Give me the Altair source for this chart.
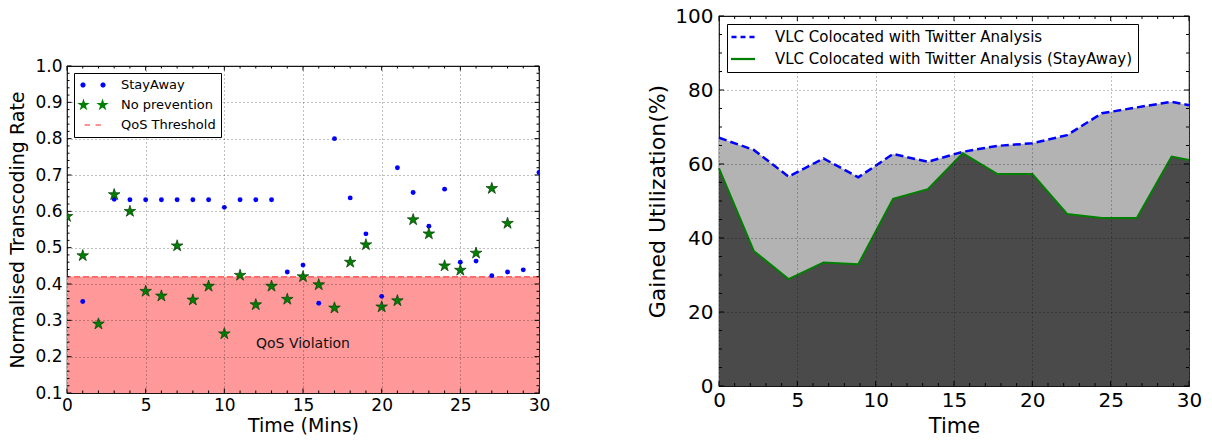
import math
import altair as alt
import pandas as pd

FONT = "DejaVu Sans"

# ---------------- left panel data ----------------
minutes = list(range(31))
stayaway_rate = [0.585, 0.352, None, 0.633, 0.632, 0.632, 0.632, 0.632, 0.632, 0.632,
                 0.611, 0.632, 0.632, 0.632, 0.433, 0.452, 0.347, 0.800, 0.637, 0.538,
                 0.366, 0.720, 0.652, 0.559, 0.661, 0.460, 0.463, 0.423, 0.433, 0.439, 0.707]
no_prevention_rate = [0.586, 0.478, 0.290, 0.646, 0.600, 0.380, 0.367, 0.505, 0.356, 0.394,
                      0.263, 0.424, 0.343, 0.394, 0.358, 0.420, 0.398, 0.334, 0.460, 0.508,
                      0.337, 0.354, 0.577, 0.538, 0.450, 0.438, 0.485, 0.663, 0.567, None, None]
qos_threshold = 0.42
rate_floor = 0.1
violation_text = "QoS Violation"
violation_time = 15
violation_rate = 0.236
left_legend_labels = ["StayAway", "No prevention", "QoS Threshold"]
left_x_ticks = [0, 5, 10, 15, 20, 25, 30]
left_y_ticks = [0.1, 0.2, 0.3, 0.4, 0.5, 0.6, 0.7, 0.8, 0.9, 1.0]
left_x_minor = [i for i in range(31) if i % 5]
left_y_minor = [round(0.1 + 0.02 * i, 2) for i in range(46) if i % 5]

# ---------------- right panel data ----------------
util_time = [0, 2.22, 4.44, 6.67, 8.89, 11.11, 13.33, 15.56, 17.78, 20.0, 22.22, 24.44, 26.67, 28.89, 30.0]
util_colocated = [67.1, 63.8, 56.6, 61.5, 56.4, 62.7, 60.6, 63.3, 64.9, 65.6, 67.8, 73.7, 75.3, 76.8, 75.9]
util_stayaway = [58.8, 36.5, 28.9, 33.4, 32.9, 50.6, 53.2, 62.9, 57.3, 57.3, 46.5, 45.4, 45.4, 62.0, 61.1]
right_legend_labels = ["VLC Colocated with Twitter Analysis",
                       "VLC Colocated with Twitter Analysis (StayAway)"]
right_x_ticks = [0, 5, 10, 15, 20, 25, 30]
right_y_ticks = [0, 20, 40, 60, 80, 100]
right_x_minor = [i for i in range(31) if i % 5]
right_y_minor = [v for v in range(0, 101, 5) if v % 20]

# ---------------- sizes / styles ----------------
LW, LH = 472, 327
RW, RH = 470, 370


def fmt(v):
    s = f"{v:.3f}".rstrip("0").rstrip(".")
    return "0" if s in ("", "-0", "-") else s


def poly_path(pts):
    return "M" + "L".join(f"{fmt(x)},{fmt(y)}" for x, y in pts) + "Z"


def star_path(cx, r_out, r_in):
    pts = []
    for i in range(10):
        ang = -math.pi / 2 + i * math.pi / 5
        r = r_out if i % 2 == 0 else r_in
        pts.append((cx + r * math.cos(ang), r * math.sin(ang)))
    return poly_path(pts)


def dot_path(cx, r, n=16):
    return poly_path([(cx + r * math.cos(2 * math.pi * i / n), r * math.sin(2 * math.pi * i / n))
                      for i in range(n)])


def rect_path(x0, x1, h):
    return poly_path([(x0, -h), (x1, -h), (x1, h), (x0, h)])


STAR = star_path(0, 1, 0.38)


def tick_layers(xs, ys, x_major, x_minor, y_major, y_minor, W, H, major_len, minor_len):
    layers = []
    for vals, L in ((x_major, major_len), (x_minor, minor_len)):
        base = alt.Chart(pd.DataFrame({"tv": vals})).mark_rule(color="black", strokeWidth=1)
        layers.append(base.encode(x=alt.X("tv:Q", scale=xs), y=alt.value(H), y2=alt.value(H - L)))
        layers.append(base.encode(x=alt.X("tv:Q", scale=xs), y=alt.value(0), y2=alt.value(L)))
    for vals, L in ((y_major, major_len), (y_minor, minor_len)):
        base = alt.Chart(pd.DataFrame({"tv": vals})).mark_rule(color="black", strokeWidth=1)
        layers.append(base.encode(y=alt.Y("tv:Q", scale=ys), x=alt.value(0), x2=alt.value(L)))
        layers.append(base.encode(y=alt.Y("tv:Q", scale=ys), x=alt.value(W), x2=alt.value(W - L)))
    return layers


def make_axis(title, values, fmt_, label_size, title_size, label_pad, title_pad):
    return alt.Axis(title=title, values=values, tickCount=40, format=fmt_,
                    labelFontSize=label_size, titleFontSize=title_size,
                    labelPadding=label_pad, titlePadding=title_pad,
                    ticks=False, domain=False, grid=True, gridColor="black", gridOpacity=0.5,
                    gridDash=[1, 3], gridWidth=1, labelFlush=False, labelOverlap=False,
                    labelFont=FONT, titleFont=FONT, labelColor="black", titleColor="black",
                    titleFontWeight="normal", zindex=1)


# ================= LEFT PANEL =================
xs_l = alt.Scale(domain=[0, 30], nice=False, zero=False)
ys_l = alt.Scale(domain=[0.1, 1.0], nice=False, zero=False)

region_df = pd.DataFrame({"x0": [0], "x1": [30], "y0": [rate_floor], "y1": [qos_threshold]})
region = alt.Chart(region_df).mark_rect(color="#ff9999").encode(
    x=alt.X("x0:Q", scale=xs_l, axis=make_axis("Time (Mins)", left_x_ticks, "d", 17, 19, 4, 3)),
    x2="x1:Q",
    y=alt.Y("y0:Q", scale=ys_l,
            axis=make_axis("Normalised Transcoding Rate", left_y_ticks, ".1f", 17, 19, 5, 7)),
    y2="y1:Q",
)
thr_rule = alt.Chart(pd.DataFrame({"thr": [qos_threshold]})).mark_rule(
    color="red", opacity=0.55, strokeDash=[6, 3], strokeWidth=1.5
).encode(y=alt.Y("thr:Q", scale=ys_l))

sa_df = pd.DataFrame({"t": minutes, "rate": stayaway_rate}).dropna()
np_df = pd.DataFrame({"t": minutes, "rate": no_prevention_rate}).dropna()

sa_pts = alt.Chart(sa_df).mark_circle(color="#0000ff", size=24, opacity=1, clip=True).encode(
    x=alt.X("t:Q", scale=xs_l), y=alt.Y("rate:Q", scale=ys_l))
np_pts = alt.Chart(np_df).mark_point(
    shape=STAR, filled=True, fill="#008000", stroke="#0a3a0a", strokeWidth=0.7,
    size=150, opacity=1, clip=True
).encode(x=alt.X("t:Q", scale=xs_l), y=alt.Y("rate:Q", scale=ys_l))

viol_txt = alt.Chart(pd.DataFrame({"t": [violation_time], "r": [violation_rate],
                                   "lab": [violation_text]})).mark_text(
    font=FONT, fontSize=14, color="#111111", baseline="middle", align="center"
).encode(x=alt.X("t:Q", scale=xs_l), y=alt.Y("r:Q", scale=ys_l), text="lab:N")

left_legend = alt.Legend(title=None, orient="top-left", offset=7, padding=5,
                         fillColor="white", strokeColor="black", symbolSize=196,
                         symbolOffset=7, labelOffset=21, rowPadding=6, labelFontSize=13,
                         labelFont=FONT, labelColor="black", symbolStrokeWidth=0,
                         labelLimit=400, zindex=2)
left_shapes = [
    dot_path(-1.43, 0.37) + dot_path(1.43, 0.37),
    star_path(-1.36, 0.93, 0.36) + star_path(1.36, 0.93, 0.36),
    rect_path(-1.21, -0.43, 0.11) + rect_path(0.36, 1.14, 0.11),
]
left_leg = alt.Chart(pd.DataFrame({"s1": left_legend_labels})).transform_filter("false").mark_point(
    filled=True, size=196, opacity=1
).encode(
    color=alt.Color("s1:N", scale=alt.Scale(domain=left_legend_labels,
                                            range=["#0000ff", "#008000", "#ff7070"]),
                    legend=left_legend),
    shape=alt.Shape("s1:N", scale=alt.Scale(domain=left_legend_labels, range=left_shapes),
                    legend=left_legend),
)

left_ticks = tick_layers(xs_l, ys_l, left_x_ticks, left_x_minor, left_y_ticks, left_y_minor,
                         LW, LH, 4.5, 2.5)

left_chart = alt.layer(region, thr_rule, *left_ticks, sa_pts, np_pts, viol_txt, left_leg).properties(
    width=LW, height=LH)

spacer = alt.Chart(pd.DataFrame({"v": [0]})).mark_point(opacity=0, size=1).encode(
    opacity=alt.value(0)).properties(width=LW, height=39,
                                     view=alt.ViewBackground(stroke="transparent"))

left_col = alt.vconcat(spacer, left_chart, spacing=0).resolve_scale(
    x="independent", y="independent", color="independent", shape="independent"
).resolve_legend(color="independent", shape="independent")

# ================= RIGHT PANEL =================
xs_r = alt.Scale(domain=[0, 30], nice=False, zero=False)
ys_r = alt.Scale(domain=[0, 100], nice=False)

util_df = pd.DataFrame({"t": util_time, "col": util_colocated, "sa": util_stayaway})

light = alt.Chart(util_df).mark_area(color="#b3b3b3", opacity=1).encode(
    x=alt.X("t:Q", scale=xs_r, axis=make_axis("Time", right_x_ticks, "d", 20, 21, 4, 5)),
    y=alt.Y("col:Q", scale=ys_r,
            axis=make_axis("Gained Utilization(%)", right_y_ticks, "d", 20, 22, 6, 5)),
)
dark = alt.Chart(util_df).mark_area(color="#4a4a4a", opacity=1).encode(
    x=alt.X("t:Q", scale=xs_r), y=alt.Y("sa:Q", scale=ys_r))
col_line = alt.Chart(util_df).mark_line(color="#0000ff", strokeWidth=2.5, strokeDash=[8, 4]).encode(
    x=alt.X("t:Q", scale=xs_r), y=alt.Y("col:Q", scale=ys_r))
sa_line = alt.Chart(util_df).mark_line(color="#008000", strokeWidth=2).encode(
    x=alt.X("t:Q", scale=xs_r), y=alt.Y("sa:Q", scale=ys_r))

right_legend = alt.Legend(title=None, orient="top-left", offset=8, padding=5,
                          fillColor="white", strokeColor="black", symbolSize=256,
                          symbolOffset=3, labelOffset=24, rowPadding=6, labelFontSize=15,
                          labelFont=FONT, labelColor="black", symbolStrokeWidth=0,
                          labelLimit=600, zindex=2)
right_shapes = [
    rect_path(-1.44, -0.81, 0.16) + rect_path(-0.31, 0.31, 0.16) + rect_path(0.81, 1.44, 0.16),
    rect_path(-1.5, 1.5, 0.14),
]
right_leg = alt.Chart(pd.DataFrame({"s2": right_legend_labels})).transform_filter("false").mark_point(
    filled=True, size=256, opacity=1
).encode(
    color=alt.Color("s2:N", scale=alt.Scale(domain=right_legend_labels, range=["#0000ff", "#008000"]),
                    legend=right_legend),
    shape=alt.Shape("s2:N", scale=alt.Scale(domain=right_legend_labels, range=right_shapes),
                    legend=right_legend),
)

right_ticks = tick_layers(xs_r, ys_r, right_x_ticks, right_x_minor, right_y_ticks, right_y_minor,
                          RW, RH, 5, 3)

right_chart = alt.layer(light, dark, col_line, sa_line, *right_ticks, right_leg).properties(
    width=RW, height=RH)

chart = alt.hconcat(left_col, right_chart, spacing=95).resolve_scale(
    x="independent", y="independent", color="independent", shape="independent"
).resolve_legend(color="independent", shape="independent").properties(
    padding={"left": 8, "top": 5, "right": 5, "bottom": 5}
).configure(font=FONT).configure_view(stroke="#1a1a1a", strokeWidth=1.2)

chart.save("out.html", embed_options={"renderer": "svg", "actions": False})
